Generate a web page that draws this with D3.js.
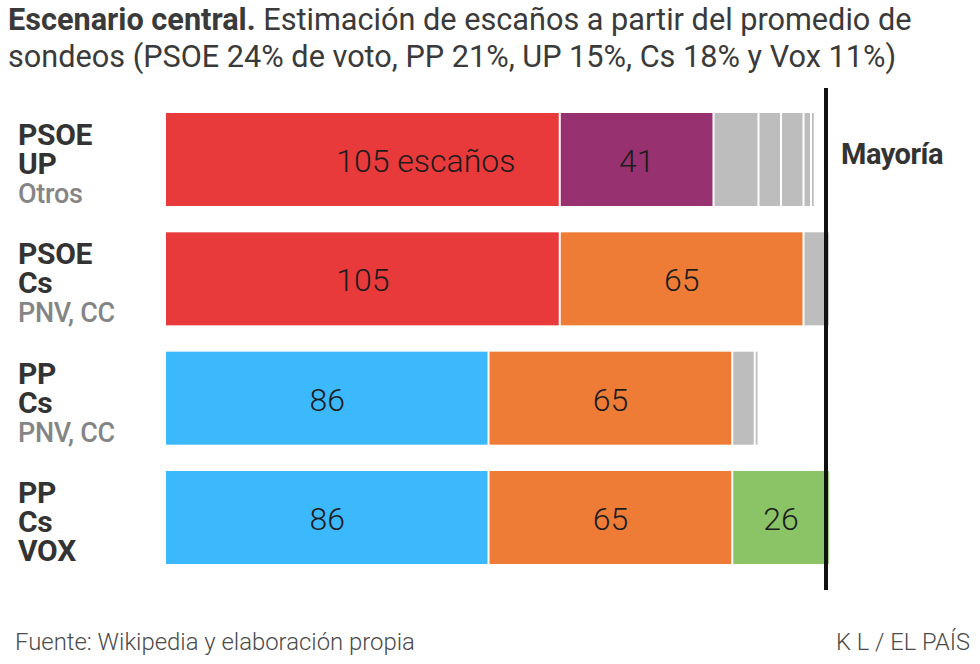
<!DOCTYPE html>
<html>
<head>
<meta charset="utf-8">
<script src="https://cdn.jsdelivr.net/npm/d3@7"></script>
<style>
  html, body { margin: 0; padding: 0; background: #fff; }
  svg { display: block; }
</style>
</head>
<body>
<svg id="chart" width="980" height="664"></svg>
<script>
// ---- DATA ----
const titleBold = "Escenario central.";
const titleRest = " Estimación de escaños a partir del promedio de";
const titleLine2 = "sondeos (PSOE 24% de voto, PP 21%, UP 15%, Cs 18% y Vox 11%)";
const rowMainLabels = [["PSOE", "UP"], ["PSOE", "Cs"], ["PP", "Cs"], ["PP", "Cs", "VOX"]];
const rowOtherLabels = ["Otros", "PNV, CC", "PNV, CC", ""];
const rowParties = [
  ["PSOE", "UP", "Otros", "Otros", "Otros", "Otros", "Otros"],
  ["PSOE", "Cs", "PNV", "CC"],
  ["PP", "Cs", "PNV", "CC"],
  ["PP", "Cs", "VOX"]
];
const rowSeats = [
  [105, 41, 12, 6, 6, 2, 1],
  [105, 65, 6, 1],
  [86, 65, 6, 1],
  [86, 65, 26]
];
const rowValueLabels = [
  ["105 escaños", "41"],
  ["105", "65"],
  ["86", "65"],
  ["86", "65", "26"]
];
const majority = 176;
const majorityLabel = "Mayoría";
const source = "Fuente: Wikipedia y elaboración propia";
const credit = "K L / EL PAÍS";

const partyColors = {
  PSOE: "#e8393b", UP: "#983170", Otros: "#bdbdbd", Cs: "#ee7c37",
  PNV: "#bdbdbd", CC: "#bdbdbd", PP: "#3cb8fc", VOX: "#8bc466"
};

// ---- DRAW ----
const svg = d3.select("#chart");
const x = d3.scaleLinear().domain([0, majority]).range([166, 826]);
const y = d3.scaleBand().domain(d3.range(rowSeats.length))
  .range([113, 564]).paddingInner(0.2205).paddingOuter(0);

function fit(sel, target) {
  const fs = parseFloat(sel.attr("font-size"));
  const w = sel.node().getComputedTextLength();
  sel.attr("font-size", fs * target / w);
}

// title
const t1 = svg.append("text").attr("x", 8).attr("y", 30)
  .attr("font-family", "Roboto, sans-serif").attr("font-size", 27).attr("fill", "#3a3a3a");
t1.append("tspan").attr("font-weight", 700).text(titleBold);
t1.append("tspan").attr("font-weight", 400).text(titleRest);
fit(t1, 904);
const t2 = svg.append("text").attr("x", 8).attr("y", 67)
  .attr("font-family", "Roboto, sans-serif").attr("font-size", 27).attr("fill", "#3a3a3a")
  .text(titleLine2);
t2.attr("font-size", t1.attr("font-size"));

// bars
const rows = svg.selectAll("g.row").data(rowSeats).join("g").attr("class", "row");
rows.each(function (seats, ri) {
  const g = d3.select(this);
  const top = y(ri), h = y.bandwidth();
  let cum = 0;
  const segs = seats.map((v, i) => {
    const s = { party: rowParties[ri][i], v, start: cum, i };
    cum += v;
    return s;
  });
  g.selectAll("rect").data(segs).join("rect")
    .attr("x", d => x(d.start) + (d.i === 0 ? 0 : 1))
    .attr("y", top)
    .attr("width", d => Math.max(0.5, x(d.start + d.v) - x(d.start) - (d.i === 0 ? 1 : 2)))
    .attr("height", h)
    .attr("fill", d => partyColors[d.party]);

  // value labels
  rowValueLabels[ri].forEach((lab, i) => {
    const d = segs[i];
    const cx = (x(d.start) + x(d.start + d.v)) / 2;
    const parts = lab.split(" ");
    const num = parts[0];
    const txt = g.append("text")
      .attr("y", top + h / 2 + 12.5)
      .attr("font-family", "Roboto, sans-serif").attr("font-weight", 300)
      .attr("font-size", 32).attr("fill", "#1c1c1c")
      .text(num);
    const w = txt.node().getComputedTextLength();
    txt.attr("x", cx - w / 2);
    if (parts.length > 1) txt.append("tspan").text(" " + parts.slice(1).join(" "));
  });

  // row labels
  const lines = rowMainLabels[ri].map(l => ({ t: l, main: true }));
  if (rowOtherLabels[ri]) lines.push({ t: rowOtherLabels[ri], main: false });
  lines.forEach((l, li) => {
    g.append("text").attr("x", 18).attr("y", top + 32 + li * 29)
      .attr("font-family", "Roboto, sans-serif")
      .attr("font-weight", l.main ? 700 : 500)
      .attr("font-size", l.main ? 30 : 27)
      .attr("letter-spacing", -0.3)
      .attr("fill", l.main ? "#333333" : "#858585")
      .text(l.t);
  });
});

// majority line
svg.append("line").attr("x1", x(majority)).attr("x2", x(majority))
  .attr("y1", 88).attr("y2", 590).attr("stroke", "#111").attr("stroke-width", 4);
svg.append("text").attr("x", x(majority) + 15).attr("y", 164)
  .attr("font-family", "Roboto, sans-serif").attr("font-weight", 700)
  .attr("font-size", 29).attr("letter-spacing", -0.5).attr("fill", "#333")
  .text(majorityLabel);

// footer
const f1 = svg.append("text").attr("x", 15).attr("y", 650)
  .attr("font-family", "Roboto, sans-serif").attr("font-weight", 300)
  .attr("font-size", 21).attr("fill", "#4a4a4a").text(source);
fit(f1, 400);
const f2 = svg.append("text").attr("x", 970).attr("y", 650).attr("text-anchor", "end")
  .attr("font-family", "Roboto, sans-serif").attr("font-weight", 300)
  .attr("font-size", 21).attr("fill", "#4a4a4a").text(credit);
fit(f2, 134);
</script>
</body>
</html>
